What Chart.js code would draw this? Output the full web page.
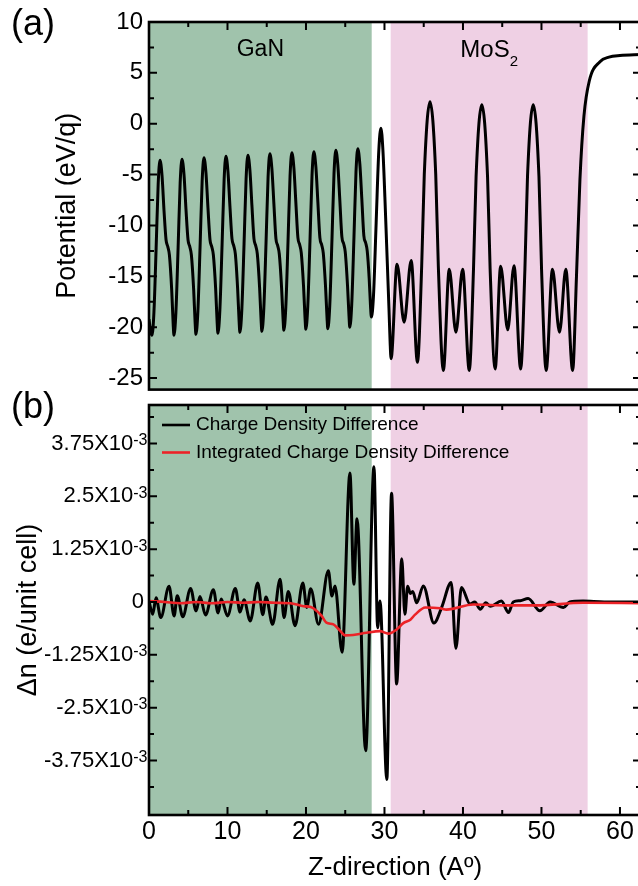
<!DOCTYPE html>
<html>
<head>
<meta charset="utf-8">
<script src="https://cdn.jsdelivr.net/npm/chart.js@4.4.1/dist/chart.umd.min.js"></script>
<style>
  html, body { margin: 0; padding: 0; width: 638px; height: 886px; overflow: hidden; background: #fff; }
  body { position: relative; font-family: "Liberation Sans", Arial, sans-serif; }
  #top { position: absolute; left: 0; top: 0; width: 660px; height: 410px; }
  #bottom { position: absolute; left: 0; top: 395px; width: 660px; height: 491px; }
  .panel { position: absolute; left: 11px; font-size: 36px; color: #000; }
</style>
</head>
<body>
<div id="top"><canvas id="potChart"></canvas></div>
<div id="bottom"><canvas id="chgChart"></canvas></div>
<div class="panel" style="top:2px">(a)</div>
<div class="panel" style="top:385px">(b)</div>
<script>
const FONT = '"Liberation Sans", Arial, sans-serif';

// x axis (Z-direction, Angstrom)
const zMin = 0, zMax = 62.68;
const zTicks = [0, 10, 20, 30, 40, 50, 60];
const zMinor = [5, 15, 25, 35, 45, 55];

// shaded layers
const layerName = ['GaN', 'MoS'];
const layerStart = [0, 30.79];
const layerEnd = [28.37, 55.88];
const layerColor = ['#a0c3ac', '#efd0e4'];

// (a) potential
const potMin = -26.13, potMax = 10;
const potTicks = [-25, -20, -15, -10, -5, 0, 5, 10];
const potMinor = [-22.5, -17.5, -12.5, -7.5, -2.5, 2.5, 7.5];
const potZ = [
  0, 0.2, 0.38, 0.63, 0.91, 1.17,
  1.40, 1.66, 1.91, 2.17, 2.40, 2.60, 2.89, 3.08, 3.18, 3.43, 3.71, 3.97,
  4.20, 4.46, 4.71, 4.97, 5.20, 5.40, 5.69, 5.88, 5.98, 6.23, 6.51, 6.77,
  7.00, 7.26, 7.51, 7.77, 8.00, 8.20, 8.49, 8.68, 8.78, 9.03, 9.31, 9.57,
  9.80, 10.06, 10.31, 10.57, 10.80, 11.00, 11.29, 11.48, 11.58, 11.83, 12.11, 12.37,
  12.60, 12.86, 13.11, 13.37, 13.60, 13.80, 14.09, 14.28, 14.38, 14.63, 14.91, 15.17,
  15.40, 15.66, 15.91, 16.17, 16.40, 16.60, 16.89, 17.08, 17.18, 17.43, 17.71, 17.97,
  18.20, 18.46, 18.71, 18.97, 19.20, 19.40, 19.69, 19.88, 19.98, 20.23, 20.51, 20.77,
  21.00, 21.26, 21.51, 21.77, 22.00, 22.20, 22.49, 22.68, 22.78, 23.03, 23.31, 23.57,
  23.80, 24.06, 24.31, 24.57, 24.80, 25.00, 25.29, 25.48, 25.58, 25.83, 26.11, 26.37,
  26.60, 26.86, 27.11, 27.37, 27.60, 27.80, 28.05, 28.22, 28.33,
  28.60, 28.94, 29.28, 29.55, 29.80, 30.05, 30.27, 30.57, 30.72, 30.84,
  31.60, 32.50, 33.40, 34.20, 34.74, 35.07, 35.80, 36.53, 36.86, 37.50,
  38.25, 39.10, 39.96, 40.80, 41.34, 41.67, 42.40, 43.13, 43.46, 44.10,
  44.80, 45.70, 46.50, 47.35, 47.89, 48.22, 48.95, 49.68, 50.01, 50.60,
  51.40, 52.30, 53.10, 53.97, 54.46, 54.90, 55.41, 56.09, 57.45, 58.60, 60.00, 62.70
];
const potV = [
  -19.2, -20.4, -20.8, -18.5, -12.2, -5.9,
  -3.6, -5.1, -8.5, -11.4, -12.1, -12.9, -16.3, -19.7, -20.8, -18.5, -12.15, -5.8,
  -3.5, -5.0, -8.4, -11.4, -12.1, -12.9, -16.3, -19.6, -20.7, -18.4, -12.0, -5.65,
  -3.35, -4.85, -8.25, -11.4, -12.1, -12.9, -16.2, -19.5, -20.6, -18.3, -11.9, -5.5,
  -3.2, -4.7, -8.1, -11.3, -12.0, -12.8, -16.2, -19.4, -20.5, -18.2, -11.8, -5.4,
  -3.1, -4.6, -8.0, -11.3, -12.0, -12.8, -16.1, -19.3, -20.4, -18.1, -11.7, -5.25,
  -2.95, -4.45, -7.85, -11.3, -12.0, -12.8, -16.1, -19.2, -20.3, -18.0, -11.6, -5.15,
  -2.85, -4.35, -7.75, -11.2, -11.9, -12.7, -16.0, -19.1, -20.2, -17.9, -11.5, -5.05,
  -2.75, -4.25, -7.65, -11.2, -11.9, -12.7, -16.0, -19.05, -20.15, -17.85, -11.4, -4.9,
  -2.6, -4.1, -7.5, -11.1, -11.8, -12.6, -15.9, -18.9, -20.0, -17.7, -11.2, -4.75,
  -2.45, -3.95, -7.35, -11.0, -11.7, -12.5, -15.2, -17.9, -19.0,
  -16.9, -9.7, -2.6, -0.44, -2.6, -7.2, -11.8, -18.1, -21.5, -23.1,
  -13.8, -19.5, -13.45, -23.45, -14.0, -5.0, 2.17, -5.0, -14.0, -24.25,
  -14.3, -20.5, -14.3, -24.25, -14.3, -5.2, 1.86, -5.2, -14.3, -24.1,
  -14.0, -20.25, -13.95, -24.1, -14.3, -5.2, 1.86, -5.2, -14.3, -24.25,
  -14.3, -20.5, -14.3, -24.25, -15.0, -5.5, 0.75, 4.2, 6.1, 6.55, 6.7, 6.8
];

// (b) charge density difference, in units of 1e-3 e/unit cell
const chgMin = -5.04, chgMax = 4.66;
const chgTicks = [-3.75, -2.5, -1.25, 0, 1.25, 2.5, 3.75];
const chgTickLabels = ['-3.75', '-2.5', '-1.25', '0', '1.25', '2.5', '3.75'];
const chgMinor = [-4.375, -3.125, -1.875, -0.625, 0.625, 1.875, 3.125, 4.375];
const chgZ = [
  0, 0.47, 0.9, 1.5, 2.55, 3.2, 3.6, 4.3, 5.3, 6.0, 6.5, 7.2, 8.2, 8.8, 9.2, 10.0,
  11.0, 11.6, 12.1, 12.9, 13.85, 14.5, 14.9, 15.75, 16.7, 17.2, 17.75, 18.6, 19.6, 20.1,
  20.6, 21.6, 22.85, 23.3, 23.7, 24.6, 25.6, 26.1, 26.5, 27.6, 28.66, 29.13, 29.43, 30.3,
  30.9, 31.55, 32.2, 32.6, 32.95, 33.3, 33.6, 34.1, 34.95, 36.3, 37.3, 38.5, 39.1, 39.8,
  40.9, 41.5, 42.2, 42.9, 43.5, 44.9, 45.8, 46.4, 47.3, 48.3, 49.8, 51.1, 52.8, 53.6,
  55.3, 58.0, 62.7
];
const chgN = [
  0.02, -0.29, 0.1, -0.37, 0.37, -0.33, 0.15, -0.35, 0.32, -0.21, 0.13, -0.31, 0.29, -0.26, 0.07, -0.33,
  0.32, -0.24, 0.05, -0.45, 0.45, -0.3, 0.12, -0.53, 0.54, -0.37, 0.25, -0.56, 0.45, -0.13,
  0.31, -0.53, 0.74, 0.14, 0.38, -1.19, 3.05, 0.42, 1.97, -3.52, 3.2, -0.61, 0.02, -4.2,
  2.57, -1.94, 1.02, -0.29, 0.37, 0.2, 0.25, -0.02, 0.38, -0.5, -0.12, 0.46, -1.1, 0.34,
  -0.05, 0.0, -0.17, -0.02, -0.1, 0.02, -0.25, 0.0, 0.03, 0.08, -0.21, 0.0, -0.13, 0.0,
  0.02, 0.0, 0.0
];
const intZ = [
  0, 2, 4, 6, 8, 10, 12, 14, 16, 18, 19.7, 20.6, 21.3, 22.0, 22.6, 23.5, 24.2, 25.0,
  26.0, 27.7, 29.4, 30.5, 31.55, 32.4, 33.3, 33.9, 35.2, 37.1, 37.9, 41.3, 45.7, 49.3,
  55.3, 62.7
];
const intN = [
  0.02, 0.0, -0.03, 0.0, -0.03, 0.0, -0.02, 0.0, -0.02, -0.03, -0.1, -0.12, -0.2, -0.33, -0.49, -0.53, -0.65, -0.79,
  -0.78, -0.73, -0.69, -0.75, -0.65, -0.5, -0.42, -0.3, -0.13, -0.15, -0.18, -0.06, -0.08, -0.08,
  -0.02, -0.03
];
const seriesNames = ['Charge Density Difference', 'Integrated Charge Density Difference'];
const seriesColors = ['#000000', '#ec2227'];

const toPoints = (xs, ys) => xs.map((v, i) => ({ x: v, y: ys[i] }));

// shading, frame with inward ticks, extra labels
const framePlugin = {
  id: 'frame',
  beforeDatasetsDraw(chart) {
    const { ctx, chartArea: a, scales: { x } } = chart;
    ctx.save();
    for (let i = 0; i < layerStart.length; i++) {
      const x0 = x.getPixelForValue(layerStart[i]);
      const x1 = x.getPixelForValue(layerEnd[i]);
      ctx.fillStyle = layerColor[i];
      ctx.fillRect(x0, a.top, x1 - x0, a.bottom - a.top);
    }
    ctx.restore();
  },
  afterDraw(chart, args, o) {
    const { ctx, chartArea: a, scales: { x, y } } = chart;
    ctx.save();
    ctx.strokeStyle = '#000';
    ctx.lineWidth = 2;
    ctx.beginPath();
    const xt = (vals, len) => vals.forEach(v => {
      const px = x.getPixelForValue(v);
      ctx.moveTo(px, a.top); ctx.lineTo(px, a.top + len);
      if (o.bottomTicks) { ctx.moveTo(px, a.bottom); ctx.lineTo(px, a.bottom - len); }
    });
    const yt = (vals, len) => vals.forEach(v => {
      const py = y.getPixelForValue(v);
      ctx.moveTo(a.left, py); ctx.lineTo(a.left + len, py);
      ctx.moveTo(a.right, py); ctx.lineTo(a.right - len, py);
    });
    xt(zTicks, 8); xt(zMinor, 5);
    yt(o.major, 8); yt(o.minor, 5);
    ctx.stroke();
    ctx.lineWidth = 2.6;
    ctx.strokeRect(a.left, a.top, a.right - a.left, a.bottom - a.top);
    ctx.restore();
  }
};

const layerLabels = {
  id: 'layerLabels',
  afterDraw(chart) {
    const { ctx, scales: { x } } = chart;
    ctx.save();
    ctx.fillStyle = '#000';
    ctx.textBaseline = 'alphabetic';
    const c0 = (x.getPixelForValue(layerStart[0]) + x.getPixelForValue(layerEnd[0])) / 2;
    ctx.font = '23px ' + FONT;
    ctx.textAlign = 'center';
    ctx.fillText(layerName[0], c0, 56);
    const c1 = (x.getPixelForValue(layerStart[1]) + x.getPixelForValue(layerEnd[1])) / 2;
    ctx.font = '24px ' + FONT;
    const w = ctx.measureText(layerName[1]).width;
    ctx.font = '15px ' + FONT;
    const ws = ctx.measureText('2').width;
    const left = c1 - (w + ws) / 2;
    ctx.textAlign = 'left';
    ctx.font = '24px ' + FONT;
    ctx.fillText(layerName[1], left, 56.5);
    ctx.font = '15px ' + FONT;
    ctx.fillText('2', left + w, 65.5);
    ctx.restore();
  }
};

const chgLabels = {
  id: 'chgLabels',
  afterDraw(chart) {
    const { ctx, scales: { y } } = chart;
    ctx.save();
    ctx.fillStyle = '#000';
    chgTicks.forEach((v, i) => {
      const py = y.getPixelForValue(v);
      const lab = chgTickLabels[i];
      if (lab === '0') {
        ctx.font = '22px ' + FONT;
        ctx.textAlign = 'right';
        ctx.textBaseline = 'middle';
        ctx.fillText('0', 144, py);
        return;
      }
      ctx.font = '16px ' + FONT;
      ctx.textAlign = 'right';
      ctx.textBaseline = 'alphabetic';
      const sw = ctx.measureText('-3').width;
      ctx.fillText('-3', 147.5, py + 1.5);
      ctx.font = '22px ' + FONT;
      ctx.textBaseline = 'middle';
      ctx.fillText(lab + 'X10', 147.5 - sw, py);
    });
    // legend
    ctx.font = '19px ' + FONT;
    ctx.textAlign = 'left';
    ctx.textBaseline = 'middle';
    const rows = [425 - 395, 452.5 - 395];
    seriesNames.forEach((n, i) => {
      ctx.strokeStyle = seriesColors[i];
      ctx.lineWidth = 2.6;
      ctx.beginPath();
      ctx.moveTo(162, rows[i]); ctx.lineTo(190, rows[i]);
      ctx.stroke();
      ctx.fillText(n, 196, rows[i]);
    });
    ctx.restore();
  }
};

new Chart(document.getElementById('potChart'), {
  type: 'line',
  data: {
    datasets: [{
      data: toPoints(potZ, potV),
      borderColor: '#000',
      borderWidth: 3,
      pointRadius: 0,
      cubicInterpolationMode: 'monotone',
      fill: false
    }]
  },
  options: {
    responsive: true,
    maintainAspectRatio: false,
    animation: false,
    layout: { padding: { top: 22, right: 19, bottom: 5, left: 0 } },
    plugins: {
      legend: { display: false },
      tooltip: { enabled: false },
      frame: { major: potTicks, minor: potMinor, bottomTicks: false }
    },
    scales: {
      x: { type: 'linear', min: zMin, max: zMax, display: false },
      y: {
        min: potMin, max: potMax,
        afterFit(s) { s.width = 149; },
        afterBuildTicks(s) { s.ticks = potTicks.map(v => ({ value: v })); },
        grid: { display: false, drawTicks: false },
        border: { display: false },
        ticks: { padding: 6, color: '#000', font: { family: FONT, size: 24 } },
        title: { display: true, text: 'Potential (eV/q)', color: '#000',
                 font: { family: FONT, size: 27 }, padding: { top: 51, bottom: 0 } }
      }
    }
  },
  plugins: [framePlugin, layerLabels]
});

new Chart(document.getElementById('chgChart'), {
  type: 'line',
  data: {
    datasets: [{
      label: seriesNames[1],
      data: toPoints(intZ, intN),
      borderColor: seriesColors[1],
      borderWidth: 2.6,
      pointRadius: 0,
      cubicInterpolationMode: 'monotone',
      fill: false,
      order: 0
    }, {
      label: seriesNames[0],
      data: toPoints(chgZ, chgN),
      borderColor: seriesColors[0],
      borderWidth: 3,
      pointRadius: 0,
      cubicInterpolationMode: 'monotone',
      fill: false,
      order: 1
    }]
  },
  options: {
    responsive: true,
    maintainAspectRatio: false,
    animation: false,
    layout: { padding: { top: 10, right: 19, bottom: 0, left: 0 } },
    plugins: {
      legend: { display: false },
      tooltip: { enabled: false },
      frame: { major: chgTicks, minor: chgMinor, bottomTicks: true }
    },
    scales: {
      x: {
        type: 'linear', min: zMin, max: zMax,
        afterFit(s) { s.height = 71; },
        afterBuildTicks(s) { s.ticks = zTicks.map(v => ({ value: v })); },
        grid: { display: false, drawTicks: false },
        border: { display: false },
        ticks: { padding: 2, color: '#000', maxRotation: 0, font: { family: FONT, size: 25 } },
        title: { display: true, text: 'Z-direction (A\u00ba)', color: '#000',
                 font: { family: FONT, size: 26 }, padding: { top: 0, bottom: 3 } }
      },
      y: {
        min: chgMin, max: chgMax,
        afterFit(s) { s.width = 149; },
        grid: { display: false, drawTicks: false },
        border: { display: false },
        ticks: { display: false },
        title: { display: true, text: '\u0394n (e/unit cell)', color: '#000',
                 font: { family: FONT, size: 27 }, padding: { top: 12, bottom: 0 } }
      }
    }
  },
  plugins: [framePlugin, chgLabels]
});
</script>
</body>
</html>
